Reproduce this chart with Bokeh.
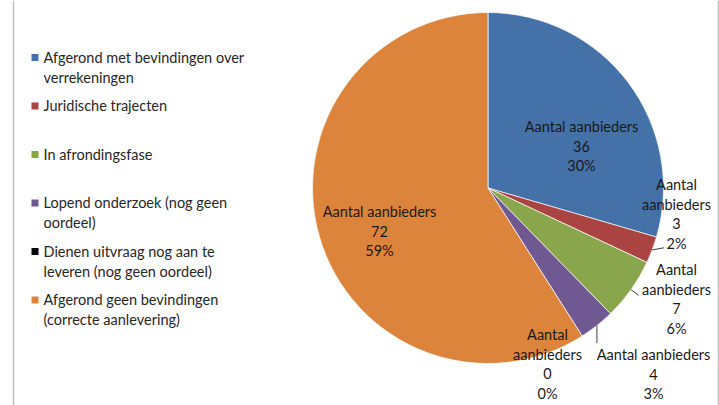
import numpy as np
from bokeh.plotting import figure
from bokeh.models import Range1d
from bokeh.core.properties import value
from bokeh.embed import file_html
from bokeh.resources import INLINE

# ---- data ----
categories = [
    "Afgerond met bevindingen over\nverrekeningen",
    "Juridische trajecten",
    "In afrondingsfase",
    "Lopend onderzoek (nog geen\noordeel)",
    "Dienen uitvraag nog aan te\nleveren (nog geen oordeel)",
    "Afgerond geen bevindingen\n(correcte aanlevering)",
]
counts = [36, 3, 7, 4, 0, 72]
series_name = "Aantal aanbieders"

# ---- style / layout ----
colors = ["#4471A8", "#A94442", "#8AA64C", "#705893", "#000000", "#DC843C"]
label_wrap = [False, True, True, False, True, False]
label_pos = [(581, 126), (676, 184), (676, 269), (653, 354), (547, 334), (379, 211)]
FONT = value("Lato")
W, H = 719, 405
cx, cy, R = 487.5, 187.5, 175.5

p = figure(width=W, height=H, output_backend="svg", toolbar_location=None,
           x_range=Range1d(0, W), y_range=Range1d(-H, 0),
           min_border=0, styles={"margin": "0px"})
p.axis.visible = False
p.grid.visible = False
p.outline_line_color = None
p.background_fill_color = "white"

# chart border lines
p.segment(x0=[13, 718], y0=[0, 0], x1=[13, 718], y1=[-H, -H], line_color="#BFBFBF", line_width=1.5)

total = sum(counts)
cum = np.concatenate([[0], np.cumsum(counts)])
starts = np.pi / 2 - cum[:-1] / total * 2 * np.pi
ends = np.pi / 2 - cum[1:] / total * 2 * np.pi

for i, c in enumerate(counts):
    if c == 0:
        continue
    p.wedge(x=cx, y=-cy, radius=R, start_angle=starts[i], end_angle=ends[i],
            direction="clock", fill_color=colors[i], line_color="white", line_width=0.7)

# leader lines for outside labels
mids = (starts + ends) / 2
leaders = {1: (663.5, 247.3), 2: (638.3, 295.0), 3: (596.0, 342.5)}
for i, (ex, ey) in leaders.items():
    sx = cx + R * np.cos(mids[i])
    sy = -cy + R * np.sin(mids[i])
    if i == 3:
        p.segment(x0=[sx], y0=[sy], x1=[sx], y1=[-ey], line_color="#404040", line_width=1)
    else:
        p.segment(x0=[sx], y0=[sy], x1=[ex], y1=[-ey], line_color="#404040", line_width=1)

# slice labels
tx, ty, tt = [], [], []
for i, c in enumerate(counts):
    pct = round(100 * c / total)
    lines = (series_name.split(" ") if label_wrap[i] else [series_name]) + [str(c), f"{pct}%"]
    x0, y0 = label_pos[i]
    for j, ln in enumerate(lines):
        tx.append(x0)
        ty.append(-(y0 + 19.5 * j))
        tt.append(ln)
p.text(x=tx, y=ty, text=tt, text_font=FONT, text_font_size="14.5px",
       text_align="center", text_baseline="middle", text_color="#1a1a1a")

# legend
lx, ly, lt = [], [], []
for i, cat in enumerate(categories):
    y0 = 56.5 + 48.5 * i
    p.rect(x=34.5, y=-(y0 + 0.5), width=7, height=7, fill_color=colors[i], line_color=None)
    for j, ln in enumerate(cat.split("\n")):
        lx.append(43)
        ly.append(-(y0 + 20 * j))
        lt.append(ln)
p.text(x=lx, y=ly, text=lt, text_font=FONT, text_font_size="14.5px",
       text_align="left", text_baseline="middle", text_color="#262626")

open("out.html", "w").write(file_html(p, INLINE))
